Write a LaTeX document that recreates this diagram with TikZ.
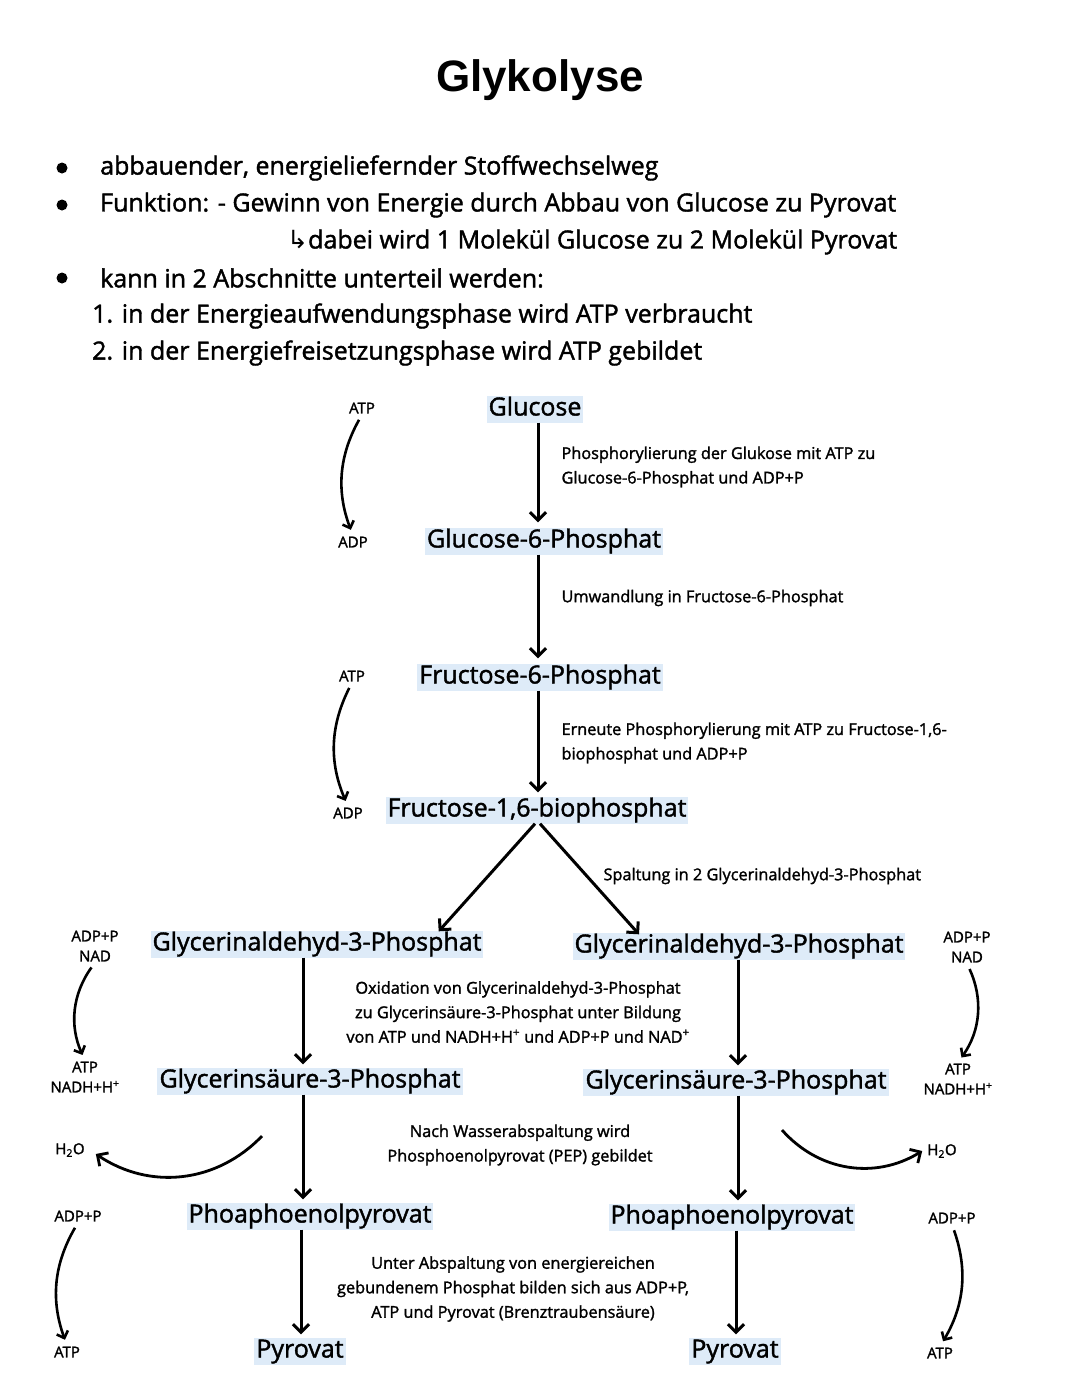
\documentclass[tikz,border=0pt]{standalone}
\usepackage{fontspec}
\setmainfont{Open Sans}
\newfontfamily\handfont{Open Sans}[FakeBold=1.6]
\newfontfamily\titlefont{Liberation Sans}
\newfontfamily\symfont{DejaVu Sans}
\usetikzlibrary{positioning,arrows.meta}

\definecolor{hl}{RGB}{222,235,248}

\tikzset{
  stoff/.style={fill=hl, inner sep=2pt, text height=18pt, text depth=5pt,
    font=\handfont\fontsize{25}{30}\selectfont},
  info/.style={align=left, anchor=west, font=\handfont\fontsize{16.3}{24.5}\selectfont},
  infoc/.style={align=center, font=\handfont\fontsize{16.3}{24.5}\selectfont},
  neben/.style={align=center, inner sep=1pt, font=\handfont\fontsize{15}{20}\selectfont},
  punkt/.style={anchor=west, inner sep=0pt, font=\handfont\fontsize{25}{30}\selectfont},
  pfeil/.style={-{Straight Barb[length=8pt,width=16pt]}, line width=3pt},
  bogen/.style={-{Straight Barb[length=6pt,width=12pt]}, line width=2.6pt},
}

\begin{document}
\begin{tikzpicture}[x=1pt, y=-1pt]
  \useasboundingbox (0,0) rectangle (1080,1394);
  \fill[white] (0,0) rectangle (1080,1394);

  % Titel und Stichpunkte
  \node (titel) at (540,80) {\titlefont\bfseries\fontsize{44}{50}\selectfont Glykolyse};
  \foreach \y in {168,205,278}
    \fill (62,\y) circle (5.5pt);
  \node[punkt] (p1) at (100,168) {abbauender, energieliefernder Stoffwechselweg};
  \node[punkt] (p2) at (100,205) {Funktion: - Gewinn von Energie durch Abbau von Glucose zu Pyrovat};
  \node[punkt] (p3) at (287,242) {{\symfont ↳}dabei wird 1 Molekül Glucose zu 2 Molekül Pyrovat};
  \node[punkt] (p4) at (100,278) {kann in 2 Abschnitte unterteil werden:};
  \node[punkt] (p5) at (92,316) {1. in der Energieaufwendungsphase wird ATP verbraucht};
  \node[punkt] (p6) at (92,353) {2. in der Energiefreisetzungsphase wird ATP gebildet};

  % Spalten
  \coordinate (colM) at (538,0);
  \coordinate (colL) at (303,0);
  \coordinate (colR) at (738,0);

  % Energieaufwendungsphase
  \node[stoff] (glc) at (535,409) {Glucose};
  \node[stoff] (g6p) at (544,541) {Glucose-6-Phosphat};
  \node[stoff] (f6p) at (540,677) {Fructose-6-Phosphat};
  \node[stoff] (fbp) at (537,810) {Fructose-1,6-biophosphat};

  \node[neben] (atp1) at (362,408) {ATP};
  \node[neben] (adp1) at (353,542) {ADP};
  \node[neben] (atp2) at (352,676) {ATP};
  \node[neben] (adp2) at (348,813) {ADP};

  \draw[pfeil, shorten >=5pt] (glc.south -| colM) -- (g6p.north -| colM);
  \draw[pfeil, shorten >=5pt] (g6p.south -| colM) -- (f6p.north -| colM);
  \draw[pfeil, shorten >=4pt] (f6p.south -| colM) -- (fbp.north -| colM);
  \draw[bogen, shorten <=6pt, shorten >=6pt] (atp1.south) to[bend right=25] (adp1.north);
  \draw[bogen, shorten <=6pt, shorten >=6pt] (atp2.south) to[bend right=25] (adp2.north);

  \node[info] (t1) at (558,467) {Phosphorylierung der Glukose mit ATP zu\\Glucose-6-Phosphat und ADP+P};
  \node[info] (t2) at (558,598) {Umwandlung in Fructose-6-Phosphat};
  \node[info] (t3) at (558,743) {Erneute Phosphorylierung mit ATP zu Fructose-1,6-\\biophosphat und ADP+P};
  \node[info] (t4) at (600,876) {Spaltung in 2 Glycerinaldehyd-3-Phosphat};

  % Energiefreisetzungsphase
  \node[stoff] (gapL) at (317,944) {Glycerinaldehyd-3-Phosphat};
  \node[stoff] (gapR) at (739,946) {Glycerinaldehyd-3-Phosphat};
  \node[stoff] (gsL) at (310,1081) {Glycerinsäure-3-Phosphat};
  \node[stoff] (gsR) at (736,1082) {Glycerinsäure-3-Phosphat};
  \node[stoff] (pepL) at (310,1216) {Phoaphoenolpyrovat};
  \node[stoff] (pepR) at (732,1217) {Phoaphoenolpyrovat};
  \node[stoff] (pyrL) at (300,1351) {Pyrovat};
  \node[stoff] (pyrR) at (735,1351) {Pyrovat};

  \draw[pfeil] ([xshift=-2pt]fbp.south) -- ([xshift=-45pt, yshift=-1pt]gapL.north east);
  \draw[pfeil] ([xshift=3pt]fbp.south) -- ([xshift=-100pt, yshift=-2pt]gapR.north);

  \draw[pfeil, shorten >=3pt] (gapL.south -| colL) -- (gsL.north -| colL);
  \draw[pfeil, shorten >=3pt] (gapR.south -| colR) -- (gsR.north -| colR);
  \draw[pfeil, shorten >=3pt] (gsL.south -| colL) -- (pepL.north -| colL);
  \draw[pfeil, shorten >=3pt] (gsR.south -| colR) -- (pepR.north -| colR);
  \draw[pfeil, shorten >=3pt] ([xshift=-2pt]pepL.south -| colL) -- ([xshift=-2pt]pyrL.north -| colL);
  \draw[pfeil, shorten >=3pt] ([xshift=-2pt]pepR.south -| colR) -- ([xshift=-2pt]pyrR.north -| colR);

  \node[infoc] (t5) at (518,1012) {Oxidation von Glycerinaldehyd-3-Phosphat\\zu Glycerinsäure-3-Phosphat unter Bildung\\von ATP und NADH+H\textsuperscript{+} und ADP+P und NAD\textsuperscript{+}};
  \node[infoc] (t6) at (520,1145) {Nach Wasserabspaltung wird\\Phosphoenolpyrovat (PEP) gebildet};
  \node[infoc] (t7) at (513,1289) {Unter Abspaltung von energiereichen\\gebundenem Phosphat bilden sich aus ADP+P,\\ATP und Pyrovat (Brenztraubensäure)};

  % Nebenprodukte links
  \node[neben] (nadL) at (95,946) {ADP+P\\NAD};
  \node[neben] (nadhL) at (85,1077) {ATP\\NADH+H\textsuperscript{+}};
  \node[neben] (h2oL) at (70,1150) {H\textsubscript{2}O};
  \node[neben] (adpL) at (78,1216) {ADP+P};
  \node[neben] (atpL) at (67,1352) {ATP};
  \coordinate (wL) at (262,1136);

  \draw[bogen, shorten <=6pt, shorten >=6pt] (nadL.south) to[bend right=30] (nadhL.north);
  \draw[pfeil, line width=2.8pt] (wL) to[bend left=40] ([xshift=10pt, yshift=-4pt]h2oL.east);
  \draw[bogen, shorten <=6pt, shorten >=6pt] (adpL.south) to[bend right=25] (atpL.north);

  % Nebenprodukte rechts
  \node[neben] (nadR) at (967,947) {ADP+P\\NAD};
  \node[neben] (nadhR) at (958,1079) {ATP\\NADH+H\textsuperscript{+}};
  \node[neben] (h2oR) at (942,1151) {H\textsubscript{2}O};
  \node[neben] (adpR) at (952,1218) {ADP+P};
  \node[neben] (atpR) at (940,1353) {ATP};
  \coordinate (wR) at (782,1130);

  \draw[bogen, shorten <=6pt, shorten >=6pt] (nadR.south) to[bend left=30] (nadhR.north);
  \draw[pfeil, line width=2.8pt] (wR) to[bend right=40] ([xshift=-4pt]h2oR.west);
  \draw[bogen, shorten <=6pt, shorten >=6pt] (adpR.south) to[bend left=25] (atpR.north);
\end{tikzpicture}
\end{document}
